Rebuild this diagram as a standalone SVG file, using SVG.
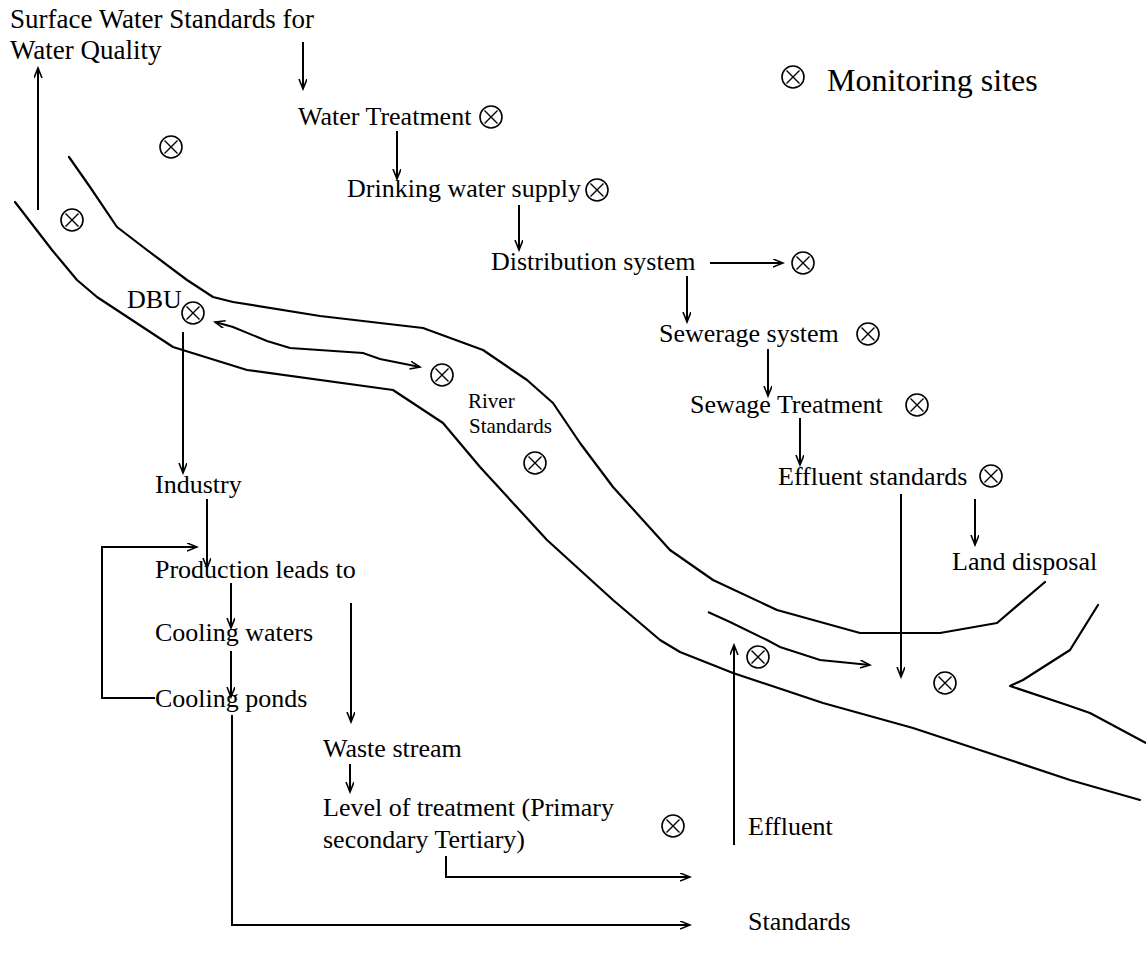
<svg xmlns="http://www.w3.org/2000/svg" xmlns:xlink="http://www.w3.org/1999/xlink" width="1146" height="960" viewBox="0 0 1146 960">
<style>
  text { font-family: "Liberation Serif", "Times New Roman", serif; font-size: 26px; fill: #000; }
  text.title { font-size: 27px; }
  text.big { font-size: 32px; }
  text.small { font-size: 21px; }
  .a { fill: none; stroke: #000; stroke-width: 2; marker-end: url(#ah); }
  .bank { fill: none; stroke: #000; stroke-width: 2.2; stroke-linejoin: round; stroke-linecap: round; }
</style>
<defs>
  <marker id="ah" markerWidth="12" markerHeight="10" refX="10" refY="4" orient="auto-start-reverse" markerUnits="userSpaceOnUse">
    <path d="M0,0 L10,4 L0,8" fill="none" stroke="#000" stroke-width="1.6"/>
  </marker>
  <g id="mon">
    <circle r="11" fill="#fff" stroke="#000" stroke-width="1.6"/>
    <path d="M-6.5,-6.5 L6.5,6.5 M6.5,-6.5 L-6.5,6.5" stroke="#000" stroke-width="1.4"/>
  </g>
</defs>
<rect width="1146" height="960" fill="#fff"/>

<g id="river">
  <polyline class="bank" points="69,157 90,187 117,227 147,250 187,280 213,297 233,302 320,316 423,328 483,350 527,380 553,403 580,443 613,487 670,550 713,580 777,610 860,633 940,633 997,623 1045,582"/>
  <polyline class="bank" points="15,202 52,250 77,280 97,297 173,347 247,370 393,390 443,423 480,467 547,540 613,600 660,640 680,652 733,673 823,703 913,728 1010,760 1070,780 1140,800"/>
  <polyline class="bank" points="1098,605 1070,650 1023,680 1010,686 1067,705 1090,713 1146,743"/>
</g>

<g id="connectors">
  <path class="a" d="M38,210 V68"/>
  <path class="a" d="M303,42 V89"/>
  <path class="a" d="M397,131 V179"/>
  <path class="a" d="M519,205 V250"/>
  <path class="a" d="M710,263 H783"/>
  <path class="a" d="M687,276 V322"/>
  <path class="a" d="M768,349 V396"/>
  <path class="a" d="M800,418 V465"/>
  <path class="a" d="M975,499 V545"/>
  <path class="a" d="M901,494 V677"/>
  <path class="a" d="M734,845 V645"/>
  <path class="a" d="M708,612 L730,622 L767,640 L780,647 L820,660 L870,665"/>
  <path class="a" style="marker-start:url(#ah)" d="M215,322 L233,327 L267,341 L290,348 L363,353 L380,359 L420,367"/>
  <path class="a" d="M183,332 V473"/>
  <path class="a" d="M207,499 V568"/>
  <path class="a" d="M155,698 H102 V547 H197"/>
  <path class="a" d="M231,583 V628"/>
  <path class="a" d="M231,651 V697"/>
  <path class="a" d="M232,715 V925 H690"/>
  <path class="a" d="M351,603 V722"/>
  <path class="a" d="M350,764 V792"/>
  <path class="a" d="M446,856 V877 H690"/>
</g>

<g id="surface-standards"><text class="title" x="10" y="28">Surface Water Standards for</text><text class="title" x="10" y="59">Water Quality</text></g>
<g id="legend"><use xlink:href="#mon" x="793" y="77"/><text class="big" x="827" y="91">Monitoring sites</text></g>
<g id="water-treatment"><text x="298" y="125">Water Treatment</text><use xlink:href="#mon" x="491" y="117"/></g>
<g id="site-1"><use xlink:href="#mon" x="171" y="147"/></g>
<g id="site-2"><use xlink:href="#mon" x="72" y="220"/></g>
<g id="drinking-water"><text x="347" y="197">Drinking water supply</text><use xlink:href="#mon" x="597" y="190"/></g>
<g id="distribution"><text x="491" y="270">Distribution system</text></g>
<g id="site-distribution"><use xlink:href="#mon" x="803" y="263"/></g>
<g id="sewerage"><text x="659" y="342">Sewerage system</text><use xlink:href="#mon" x="868" y="334"/></g>
<g id="sewage-treatment"><text x="690" y="413">Sewage Treatment</text><use xlink:href="#mon" x="917" y="405"/></g>
<g id="effluent-standards"><text x="778" y="485">Effluent standards</text><use xlink:href="#mon" x="991" y="476"/></g>
<g id="land-disposal"><text x="952" y="570">Land disposal</text></g>
<g id="dbu"><text x="127" y="308">DBU</text><use xlink:href="#mon" x="193" y="313"/></g>
<g id="site-river-1"><use xlink:href="#mon" x="442" y="375"/></g>
<g id="river-standards"><text class="small" x="468" y="408">River</text><text class="small" x="469" y="433">Standards</text></g>
<g id="site-river-2"><use xlink:href="#mon" x="535" y="463"/></g>
<g id="site-river-3"><use xlink:href="#mon" x="758" y="657"/></g>
<g id="site-river-4"><use xlink:href="#mon" x="945" y="683"/></g>
<g id="industry"><text x="155" y="493">Industry</text></g>
<g id="production"><text x="155" y="578">Production leads to</text></g>
<g id="cooling-waters"><text x="155" y="641">Cooling waters</text></g>
<g id="cooling-ponds"><text x="155" y="707">Cooling ponds</text></g>
<g id="waste-stream"><text x="323" y="757">Waste stream</text></g>
<g id="level-of-treatment"><text x="323" y="816">Level of treatment (Primary</text><text x="323" y="848">secondary Tertiary)</text></g>
<g id="effluent"><use xlink:href="#mon" x="673" y="826"/><text x="748" y="835">Effluent</text></g>
<g id="standards"><text x="748" y="930">Standards</text></g>
</svg>
